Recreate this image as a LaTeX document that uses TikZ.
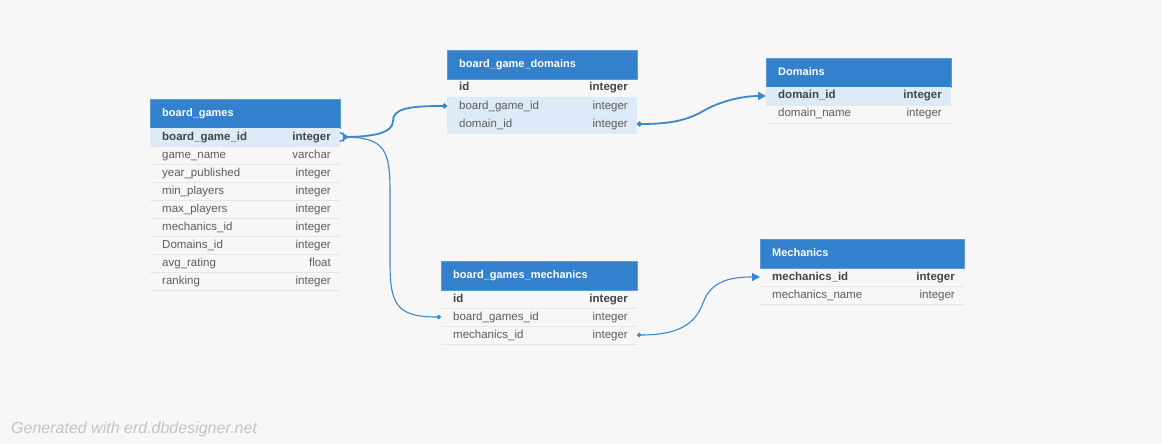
\documentclass[tikz,border=0pt]{standalone}
\usepackage{fontspec}
\setmainfont{Liberation Sans}
\usetikzlibrary{arrows.meta,calc}
\definecolor{bgc}{HTML}{F7F7F7}
\definecolor{headblue}{HTML}{3380CC}
\definecolor{headedge}{HTML}{5B9BDA}
\definecolor{rowblue}{HTML}{DDEBF8}
\definecolor{sepc}{HTML}{E6E6E6}
\definecolor{txtgray}{HTML}{5C5C5C}
\definecolor{boldgray}{HTML}{454545}
\definecolor{linkblue}{HTML}{3B87D0}
\definecolor{footgray}{HTML}{C4C4C4}
\tikzset{
  rowbox/.style={minimum height=18pt,inner sep=0pt,outer sep=0pt,draw=none},
  rowfill/.style={fill=rowblue},
  rowbold/.style={font=\fontsize{11.5}{13}\selectfont\bfseries,text=boldgray},
  fieldtxt/.style={inner sep=0pt,font=\fontsize{11.5}{13}\selectfont,text=txtgray,text height=8.5pt,text depth=2.5pt},
  typetxt/.style={inner sep=0pt,font=\fontsize{11.5}{13}\selectfont,text=txtgray,text height=8.5pt,text depth=2.5pt},
  sepline/.style={draw=sepc,line width=0.8pt},
  headbox/.style={fill=headblue,draw=headedge,line width=0.6pt,minimum height=29pt,inner sep=0pt,outer sep=0pt},
  headtxt/.style={inner sep=0pt,text=white,font=\fontsize{11}{13}\selectfont\bfseries,text height=8.5pt,text depth=2.5pt},
  thicklink/.style={draw=linkblue,line width=1.8pt},
  thinlink/.style={draw=linkblue,line width=1.1pt},
}
\newcommand{\erow}[7][]{%
  \node[rowbox,#1,minimum width=#5pt,anchor=north west] (#2) at (#3,#4) {};
  \draw[sepline] (#2.south west) -- (#2.south east);
  \node[fieldtxt,#1,fill=none,anchor=west] (#2-f) at ([xshift=12pt]#2.west) {#6};
  \node[typetxt,#1,fill=none,anchor=east] (#2-t) at ([xshift=-9pt]#2.east) {#7};
}
\newcommand{\ehead}[5]{%
  \node[headbox,minimum width=#4pt,anchor=north west] (#1) at (#2,#3) {};
  \node[headtxt,anchor=west] (#1-l) at ([xshift=12pt]#1.west) {#5};
}
\begin{document}
\begin{tikzpicture}[x=1pt,y=-1pt]
\fill[bgc] (0,0) rectangle (1162,444);
\useasboundingbox (0,0) rectangle (1162,444);

% board_games
\ehead{bg}{150}{99}{190}{board\_games}
\erow[rowfill,rowbold]{bg-r1}{150}{128}{190}{board\_game\_id}{integer}
\erow{bg-r2}{150}{146}{190}{game\_name}{varchar}
\erow{bg-r3}{150}{164}{190}{year\_published}{integer}
\erow{bg-r4}{150}{182}{190}{min\_players}{integer}
\erow{bg-r5}{150}{200}{190}{max\_players}{integer}
\erow{bg-r6}{150}{218}{190}{mechanics\_id}{integer}
\erow{bg-r7}{150}{236}{190}{Domains\_id}{integer}
\erow{bg-r8}{150}{254}{190}{avg\_rating}{float}
\erow{bg-r9}{150}{272}{190}{ranking}{integer}

% board_game_domains
\ehead{bgd}{447}{50}{190}{board\_game\_domains}
\erow[rowbold]{bgd-r1}{447}{79}{190}{id}{integer}
\erow[rowfill]{bgd-r2}{447}{97}{190}{board\_game\_id}{integer}
\erow[rowfill]{bgd-r3}{447}{115}{190}{domain\_id}{integer}

% Domains
\ehead{dom}{766}{58}{185}{Domains}
\erow[rowfill,rowbold]{dom-r1}{766}{87}{185}{domain\_id}{integer}
\erow{dom-r2}{766}{105}{185}{domain\_name}{integer}

% board_games_mechanics
\ehead{bgm}{441}{261}{196}{board\_games\_mechanics}
\erow[rowbold]{bgm-r1}{441}{290}{196}{id}{integer}
\erow{bgm-r2}{441}{308}{196}{board\_games\_id}{integer}
\erow{bgm-r3}{441}{326}{196}{mechanics\_id}{integer}

% Mechanics
\ehead{mech}{760}{239}{204}{Mechanics}
\erow[rowbold]{mech-r1}{760}{268}{204}{mechanics\_id}{integer}
\erow{mech-r2}{760}{286}{204}{mechanics\_name}{integer}

% bend points of the connectors
\coordinate (k1) at (393,121);
\coordinate (k2) at (705,110);
\coordinate (k3a) at (390,192);
\coordinate (k3b) at (390,262);
\coordinate (k4) at (703,303);

% connectors
\draw[thicklink,{Circle[length=5pt]}-] (bgd-r2.west) .. controls +(-40,0) and +(0,-12) .. (k1)
      .. controls +(0,12) and +(30,0) .. ([xshift=3pt]bg-r1.east);
\draw[thinlink,-{Circle[length=4.5pt]}] ([xshift=3pt]bg-r1.east) .. controls +(42,0) and +(0,-42) .. (k3a)
      -- (k3b) .. controls +(0,42) and +(-45,0) .. (bgm-r2.west);
\draw[thicklink,{Circle[length=5pt]}-{Triangle[length=8pt,width=8pt]}] (bgd-r3.east) .. controls +(40,0) and +(-14,8) .. (k2)
      .. controls +(14,-8) and +(-25,0) .. (dom-r1.west);
\draw[thinlink,{Circle[length=4.5pt]}-{Triangle[length=8pt,width=8pt]}] (bgm-r3.east) .. controls +(40,0) and +(-8,22) .. (k4)
      .. controls +(8,-22) and +(-30,0) .. (mech-r1.west);
% many marker at board_games
\draw[thicklink,line width=1.4pt] ([xshift=8pt]bg-r1.east) -- ([yshift=4.5pt]bg-r1.east)
      ([xshift=8pt]bg-r1.east) -- ([yshift=-4.5pt]bg-r1.east)
      ([xshift=3.5pt,yshift=4.5pt]bg-r1.east) -- ([xshift=3.5pt,yshift=-4.5pt]bg-r1.east);

% footer
\node[anchor=base west,inner sep=0pt,font=\fontsize{16}{18}\selectfont\itshape,text=footgray] (foot) at (11,433.5) {Generated with erd.dbdesigner.net};
\end{tikzpicture}
\end{document}
